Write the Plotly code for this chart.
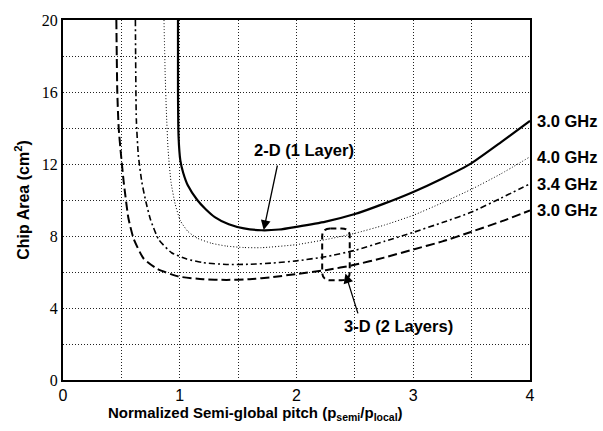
import plotly.graph_objects as go

# Chip area vs. normalized semi-global pitch
# 2-D (1 layer) at 3.0 GHz
x_2d_30 = [0.985, 0.985, 0.99, 1.005, 1.03, 1.07, 1.15, 1.22, 1.30, 1.42, 1.55, 1.70,
           1.85, 2.0, 2.25, 2.5, 2.75, 3.0, 3.25, 3.5, 3.75, 4.0]
y_2d_30 = [20.0, 16.0, 13.5, 12.2, 11.5, 10.8, 10.0, 9.5, 9.05, 8.65, 8.42, 8.32,
           8.36, 8.51, 8.8, 9.22, 9.8, 10.45, 11.2, 12.05, 13.2, 14.4]

# 3-D (2 layers) at 4.0 GHz
x_3d_40 = [0.865, 0.875, 0.885, 0.9, 0.925, 0.96, 1.005, 1.07, 1.15, 1.27, 1.40, 1.55,
           1.7, 2.0, 2.25, 2.5, 2.75, 3.0, 3.25, 3.5, 3.75, 4.0]
y_3d_40 = [20.0, 17.0, 15.0, 12.8, 11.0, 9.8, 8.85, 8.25, 7.88, 7.6, 7.44, 7.36,
           7.35, 7.52, 7.8, 8.15, 8.6, 9.15, 9.85, 10.6, 11.45, 12.4]

# 3-D (2 layers) at 3.4 GHz
x_3d_34 = [0.62, 0.628, 0.645, 0.675, 0.71, 0.75, 0.82, 0.93, 1.06, 1.2, 1.4, 1.6,
           1.8, 2.0, 2.25, 2.5, 2.75, 3.0, 3.25, 3.5, 3.75, 4.0]
y_3d_34 = [20.0, 14.5, 12.5, 11.0, 9.9, 8.9, 7.8, 7.07, 6.72, 6.52, 6.42, 6.43,
           6.5, 6.62, 6.85, 7.2, 7.7, 8.2, 8.75, 9.33, 10.1, 10.9]

# 3-D (2 layers) at 3.0 GHz
x_3d_30 = [0.457, 0.465, 0.477, 0.497, 0.52, 0.56, 0.605, 0.69, 0.805, 0.99, 1.2, 1.4,
           1.6, 1.8, 2.0, 2.25, 2.5, 2.75, 3.0, 3.25, 3.5, 3.75, 4.0]
y_3d_30 = [20.0, 16.0, 14.0, 12.5, 11.0, 9.0, 7.85, 6.75, 6.18, 5.75, 5.6, 5.56,
           5.6, 5.72, 5.89, 6.1, 6.4, 6.8, 7.25, 7.7, 8.24, 8.8, 9.42]

freq_labels = ["3.0 GHz", "4.0 GHz", "3.4 GHz", "3.0 GHz"]

x_tickvals = [0, 1, 2, 3, 4]
x_ticktext = ["0", "1", "2", "3", "4"]
y_tickvals = [0, 4, 8, 12, 16, 20]
y_ticktext = ["0", "4", "8", "12", "16", "20"]

series = [
    (x_2d_30, y_2d_30, dict(color="black", width=2.2, dash="solid")),
    (x_3d_40, y_3d_40, dict(color="black", width=1.0, dash="1px,2px")),
    (x_3d_34, y_3d_34, dict(color="black", width=1.6, dash="6px,3px,2px,3px")),
    (x_3d_30, y_3d_30, dict(color="black", width=2.0, dash="9px,4px")),
]

fig = go.Figure()
for xs, ys, ln in series:
    fig.add_trace(go.Scatter(x=xs, y=ys, mode="lines", line=dict(shape="spline", smoothing=0.5, **ln),
                             showlegend=False, hoverinfo="skip"))

bold = dict(family="Liberation Sans", size=16.5, color="black")

# frequency labels at the right end of each curve
for (xs, ys, _), lab in zip(series, freq_labels):
    fig.add_annotation(x=1, xref="paper", y=ys[-1], yref="y", text=f"<b>{lab}</b>",
                       showarrow=False, xanchor="left", xshift=5, font=bold)

# 2-D label with arrow
fig.add_annotation(x=2.06, y=12.8, text="<b>2-D (1 Layer)</b>", showarrow=False, font=bold)
fig.add_annotation(x=1.719, y=8.33, ax=1.839, ay=12.0, axref="x", ayref="y",
                   showarrow=True, arrowhead=2, arrowsize=1.5, arrowwidth=1.3, arrowcolor="black", text="")

# 3-D label with arrow to the dashed outline
fig.add_annotation(x=2.87, y=3.0, text="<b>3-D (2 Layers)</b>", showarrow=False, font=bold)
fig.add_annotation(x=2.419, y=5.92, ax=2.53, ay=3.62, axref="x", ayref="y",
                   showarrow=True, arrowhead=2, arrowsize=1.5, arrowwidth=1.3, arrowcolor="black", text="")

x0, x1, y0, y1 = 2.22, 2.456, 5.54, 8.42
rx, ry = 0.07, 0.45
path = (f"M {x0+rx},{y1} L {x1-rx},{y1} Q {x1},{y1} {x1},{y1-ry} L {x1},{y0+ry} "
        f"Q {x1},{y0} {x1-rx},{y0} L {x0+rx},{y0} Q {x0},{y0} {x0},{y0+ry} "
        f"L {x0},{y1-ry} Q {x0},{y1} {x0+rx},{y1} Z")
fig.add_shape(type="path", path=path, xref="x", yref="y",
              line=dict(color="black", width=2, dash="6px,4px"))

# x-axis title, set slightly left of the plot centre
fig.add_annotation(x=0.413, xref="paper", y=0, yref="paper", yanchor="middle", yshift=-33,
                   text="<b>Normalized Semi-global pitch (p<sub>semi</sub>/p<sub>local</sub>)</b>",
                   showarrow=False, font=dict(family="Liberation Sans", size=15, color="black"))

grid_style = dict(gridcolor="#222", gridwidth=1, griddash="1px,2px")
axis_style = dict(showgrid=True, showline=True, linecolor="black", linewidth=2, mirror=True,
                  ticks="", zeroline=False, **grid_style)

fig.update_xaxes(range=[0, 4], tickvals=x_tickvals, ticktext=x_ticktext,
                 minor=dict(tick0=0, dtick=0.5, showgrid=True, ticks="", **grid_style),
                 tickfont=dict(family="Liberation Sans", size=16, color="black"), **axis_style)
fig.update_yaxes(range=[0, 20], tickvals=y_tickvals, ticktext=y_ticktext,
                 minor=dict(tick0=0, dtick=2, showgrid=True, ticks="", **grid_style),
                 tickfont=dict(family="Liberation Serif", size=16, color="black"),
                 title=dict(text="<b>Chip Area (cm<sup>2</sup>)</b>", standoff=8,
                            font=dict(family="Liberation Sans", size=16, color="black")),
                 **axis_style)

fig.update_layout(width=603, height=431, margin=dict(l=63, r=73, t=12, b=51),
                  plot_bgcolor="white", paper_bgcolor="white")

fig.write_html("out.html")
